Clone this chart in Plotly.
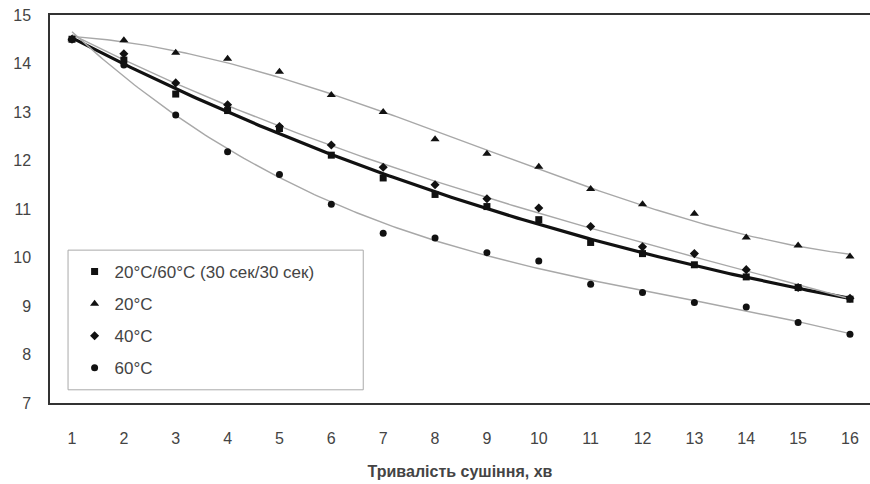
import numpy as np
import plotly.graph_objects as go

# Drying time (categories)
x_vals = list(range(1, 17))
x_tick_labels = [str(v) for v in x_vals]

# Series
y_mixed = [14.5, 14.07, 13.37, 13.03, 12.66, 12.11, 11.64, 11.30, 11.05, 10.78,
           10.31, 10.08, 9.85, 9.60, 9.38, 9.14]          # 20°C/60°C (30 сек/30 сек)
y_20 = [14.5, 14.48, 14.22, 14.10, 13.83, 13.35, 13.00, 12.44, 12.14, 11.87,
        11.41, 11.10, 10.90, 10.41, 10.25, 10.02]         # 20°C
y_40 = [14.5, 14.20, 13.60, 13.15, 12.70, 12.32, 11.86, 11.50, 11.21, 11.02,
        10.64, 10.22, 10.08, 9.75, 9.38, 9.16]            # 40°C
y_60 = [14.5, 13.97, 12.94, 12.18, 11.71, 11.10, 10.50, 10.40, 10.10, 9.93,
        9.45, 9.28, 9.07, 8.98, 8.66, 8.42]               # 60°C

names = ["20°C/60°C (30 сек/30 сек)", "20°C", "40°C", "60°C"]
symbols = ["square", "triangle-up", "diamond", "circle"]
series = [y_mixed, y_20, y_40, y_60]

y_ticks = list(range(7, 16))

FONT = "Liberation Sans, Arial, sans-serif"
fig = go.Figure()

# Trend lines (3rd order polynomial fits of each series, like spreadsheet trendlines)
xx = np.linspace(1, 16, 200)
for i, ys in enumerate(series):
    coef = np.polyfit(x_vals, ys, 3)
    yy = np.polyval(coef, xx)
    if i == 0:
        line = dict(color="#111111", width=3.2)
    else:
        line = dict(color="#a8a8a8", width=1.4)
    fig.add_trace(go.Scatter(x=xx, y=yy, mode="lines", line=line,
                             showlegend=False, hoverinfo="skip"))

# Markers
for i, (ys, nm, sym) in enumerate(zip(series, names, symbols)):
    fig.add_trace(go.Scatter(
        x=x_vals, y=ys, mode="markers", name=nm, legendgroup=str(i),
        marker=dict(symbol=sym, size=8 if sym == "triangle-up" else 7,
                    color="#111111", line=dict(width=0)),
    ))

# Legend frame (white box with thin grey border)
fig.add_shape(type="rect", xref="paper", yref="paper",
              x0=0.022, x1=0.382, y0=0.034, y1=0.394,
              fillcolor="white", line=dict(color="#aaaaaa", width=1), layer="above")

fig.update_layout(
    width=870, height=484,
    margin=dict(l=50, r=0, t=15, b=81),
    paper_bgcolor="white", plot_bgcolor="white",
    font=dict(family=FONT, size=16, color="#444444"),
    xaxis=dict(
        range=[0.576, 16.386], tickmode="array", tickvals=x_vals,
        ticktext=x_tick_labels, showgrid=False, zeroline=False,
        showline=True, linecolor="#333333", linewidth=1.5, mirror=True,
        ticks="", ticklabelstandoff=20,
        tickfont=dict(family=FONT, size=16, color="#444444"),
        title=dict(text="<b>Тривалість сушіння, хв</b>", standoff=20,
                   font=dict(family=FONT, size=16, color="#444444")),
    ),
    yaxis=dict(
        range=[7, 15], tickmode="array", tickvals=y_ticks,
        showgrid=False, zeroline=False, showline=True,
        linecolor="#333333", linewidth=1.5, ticks="", ticklabelstandoff=14,
        tickfont=dict(family=FONT, size=16, color="#444444"),
    ),
    legend=dict(
        x=0.03, y=0.384, xanchor="left", yanchor="top",
        bgcolor="rgba(0,0,0,0)", borderwidth=0,
        font=dict(family=FONT, size=17, color="#444444"),
        tracegroupgap=7, itemsizing="trace", itemwidth=30,
    ),
)

fig.write_html("out.html")
